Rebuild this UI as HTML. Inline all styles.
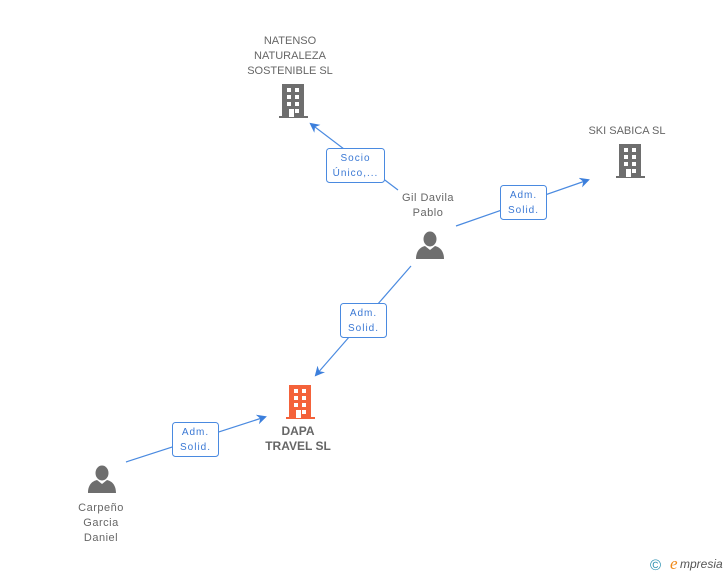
<!DOCTYPE html>
<html><head><style>
body{margin:0;background:#fff;}
svg{display:block;font-family:"Liberation Sans",sans-serif;}
</style></head><body>
<svg width="728" height="575" viewBox="0 0 728 575" xmlns="http://www.w3.org/2000/svg">
<defs>
<g id="bld">
<rect x="3" y="0" width="22" height="33"/>
<rect x="0" y="32" width="29" height="2"/>
<g fill="#fff">
<rect x="8" y="4" width="4" height="4"/><rect x="16" y="4" width="4" height="4"/>
<rect x="8" y="11" width="4" height="4"/><rect x="16" y="11" width="4" height="4"/>
<rect x="8" y="18" width="4" height="4"/><rect x="16" y="18" width="4" height="4"/>
<rect x="10" y="25" width="5" height="8"/><rect x="16" y="25" width="4" height="4"/>
</g>
</g>
<g id="per">
<ellipse cx="14" cy="8" rx="6.5" ry="7.5"/>
<path d="M0 28 C0 19 5 16 9 15 L14 19 L19 15 C23 16 28 19 28 28 Z"/>
</g>
<marker id="ar" markerWidth="10" markerHeight="10" refX="8" refY="5" orient="auto" markerUnits="userSpaceOnUse">
<path d="M0 0 L10 5 L0 10 L3 5 Z" fill="#3c7fdc"/>
</marker>
</defs>
<g stroke="#4a8ae0" stroke-width="1.2" fill="none">
<line x1="398" y1="190" x2="311" y2="124" marker-end="url(#ar)"/>
<line x1="456" y1="226" x2="588" y2="180" marker-end="url(#ar)"/>
<line x1="411" y1="266" x2="316" y2="375" marker-end="url(#ar)"/>
<line x1="126" y1="462" x2="265" y2="417" marker-end="url(#ar)"/>
</g>
<g fill="#fff" stroke="#4a8ae0" stroke-width="1">
<rect x="326.5" y="148.5" width="58" height="34" rx="3"/>
<rect x="500.5" y="185.5" width="46" height="34" rx="3"/>
<rect x="340.5" y="303.5" width="46" height="34" rx="3"/>
<rect x="172.5" y="422.5" width="46" height="34" rx="3"/>
</g>
<g fill="#3a78d4" font-size="10" text-anchor="middle" letter-spacing="1">
<text x="355.5" y="161">Socio</text><text x="355.5" y="176">Único,...</text>
<text x="523.5" y="198">Adm.</text><text x="523.5" y="213">Solid.</text>
<text x="363.5" y="316">Adm.</text><text x="363.5" y="331">Solid.</text>
<text x="195.5" y="435">Adm.</text><text x="195.5" y="450">Solid.</text>
</g>
<use href="#bld" x="279" y="84" fill="#6e6e6e"/>
<use href="#bld" x="616" y="144" fill="#6e6e6e"/>
<use href="#bld" x="286" y="385" fill="#f4623a"/>
<use href="#per" x="416" y="231" fill="#6e6e6e"/>
<use href="#per" x="88" y="465" fill="#6e6e6e"/>
<g fill="#666" font-size="11" text-anchor="middle">
<text x="290" y="44">NATENSO</text><text x="290" y="59">NATURALEZA</text><text x="290" y="74">SOSTENIBLE SL</text>
<text x="627" y="134">SKI SABICA SL</text>
<text x="428" y="201" letter-spacing="0.5">Gil Davila</text><text x="428" y="216" letter-spacing="0.5">Pablo</text>
<text x="101" y="511" letter-spacing="0.5">Carpeño</text><text x="101" y="526" letter-spacing="0.5">Garcia</text><text x="101" y="541" letter-spacing="0.5">Daniel</text>
<text x="298" y="435" font-weight="bold" font-size="12">DAPA</text><text x="298" y="450" font-weight="bold" font-size="12">TRAVEL SL</text>
</g>
<text x="650" y="570" fill="#2a8fb0" font-size="15">©</text>
<text x="670" y="569" fill="#f08a1a" font-size="17" font-style="italic" font-family="Liberation Serif,serif">e</text>
<text x="680" y="568" fill="#555" font-size="12" font-style="italic">mpresia</text>
</svg>
</body></html>
